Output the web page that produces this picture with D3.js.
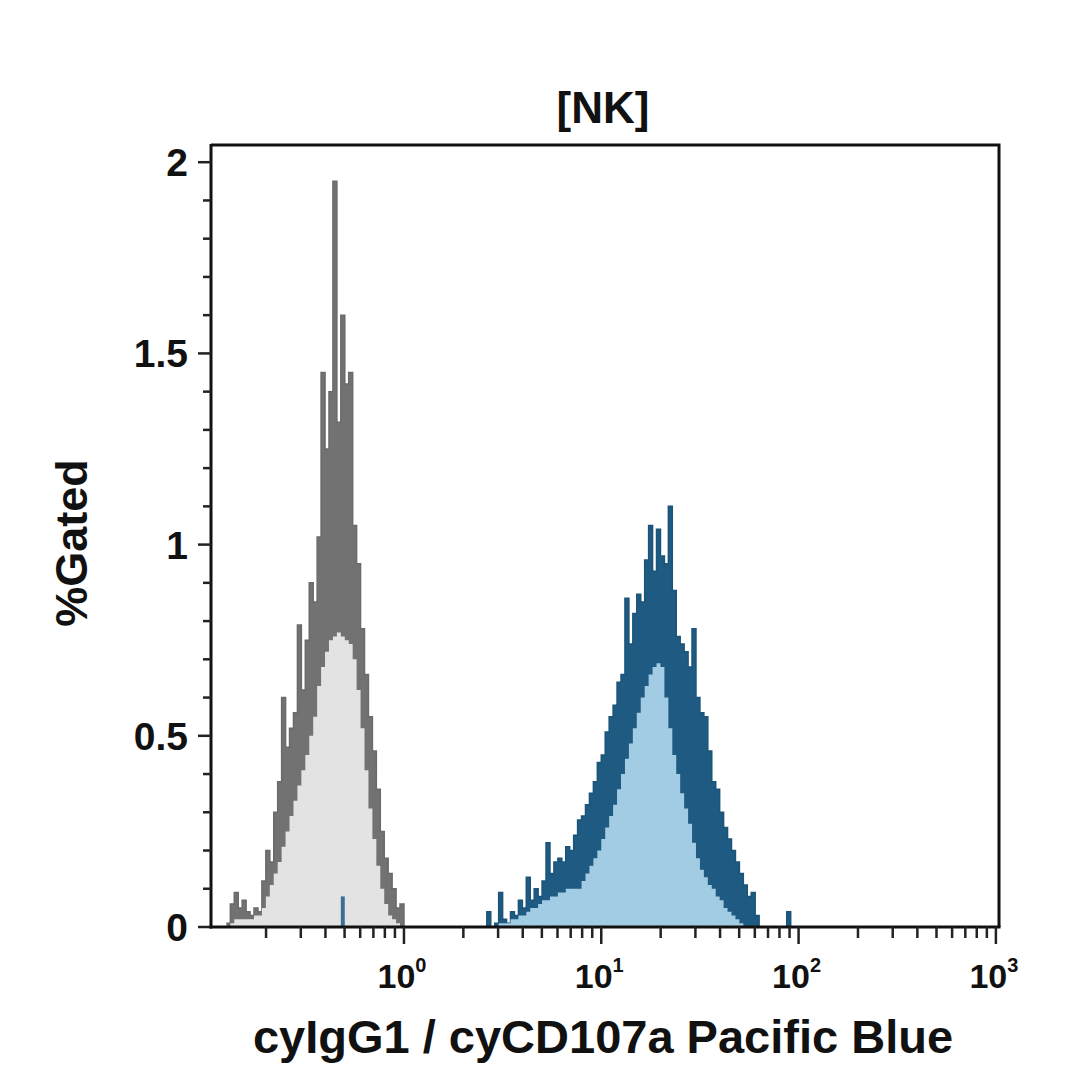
<!DOCTYPE html>
<html><head><meta charset="utf-8">
<script src="https://cdn.jsdelivr.net/npm/d3@7"></script>
<style>
body{margin:0;background:#fff}
svg{display:block}
text{font-family:"Liberation Sans",Arial,Helvetica,sans-serif;font-weight:bold;fill:#111}
</style>
</head><body>
<svg id="chart" width="1080" height="1080"></svg>
<script>
// ---- data ----
const binWidthLog = 0.02;               // histogram bin width in log10 units
const grayStartLog = -0.90;             // isotype (cyIgG1) first bin, log10
const grayRaw = [0.01,0.06,0.09,0.05,0.07,0.04,0.03,0.05,0.04,0.12,
                 0.20,0.17,0.30,0.38,0.60,0.47,0.52,0.56,0.79,0.62,
                 0.75,0.90,0.85,1.02,1.45,1.25,1.40,1.95,1.32,1.60,
                 1.42,1.45,1.05,0.95,0.78,0.66,0.55,0.46,0.36,0.25,
                 0.18,0.14,0.10,0.05,0.06];
const grayFill = [0.00,0.01,0.02,0.02,0.02,0.02,0.02,0.03,0.03,0.05,
                  0.08,0.11,0.14,0.17,0.21,0.25,0.29,0.33,0.37,0.41,
                  0.45,0.50,0.55,0.63,0.68,0.72,0.75,0.76,0.77,0.76,
                  0.75,0.74,0.70,0.62,0.52,0.41,0.31,0.23,0.16,0.10,
                  0.06,0.03,0.02,0.01,0.00];
const blueStartLog = 0.38;              // cyCD107a first bin, log10
const blueRaw = [0.00,0.00,0.04,0.00,0.01,0.09,0.02,0.01,0.04,0.03,
                 0.07,0.05,0.13,0.07,0.10,0.08,0.12,0.22,0.14,0.17,
                 0.18,0.17,0.21,0.20,0.24,0.28,0.29,0.32,0.35,0.38,
                 0.43,0.45,0.51,0.55,0.58,0.64,0.66,0.86,0.74,0.82,
                 0.87,0.85,0.96,1.05,0.93,1.04,0.97,0.95,1.10,0.88,
                 0.76,0.74,0.72,0.68,0.78,0.60,0.56,0.55,0.46,0.38,
                 0.36,0.30,0.26,0.23,0.20,0.17,0.14,0.11,0.08,0.09,
                 0.03,0.00,0.00,0.00,0.00,0.00,0.00,0.00,0.04,0.00];
const blueFill = [0.00,0.00,0.00,0.00,0.00,0.01,0.01,0.01,0.02,0.02,
                  0.03,0.03,0.04,0.05,0.05,0.06,0.07,0.07,0.08,0.08,
                  0.09,0.09,0.10,0.10,0.10,0.10,0.12,0.14,0.16,0.18,
                  0.20,0.23,0.26,0.29,0.32,0.36,0.40,0.44,0.48,0.52,
                  0.56,0.60,0.63,0.66,0.68,0.69,0.68,0.60,0.52,0.45,
                  0.40,0.35,0.31,0.27,0.22,0.18,0.15,0.13,0.11,0.10,
                  0.08,0.07,0.05,0.04,0.03,0.02,0.01,0.00,0.00,0.00,
                  0.00,0.00,0.00,0.00,0.00,0.00,0.00,0.00,0.00,0.00];
const blueStrayLog = [-0.32];           // lone event inside isotype peak
const blueStrayValues = [0.08];
const yTicks = [0, 0.5, 1, 1.5, 2];
const yTickLabels = ["0", "0.5", "1", "1.5", "2"];
const yMinorTicks = [0.1,0.2,0.3,0.4,0.6,0.7,0.8,0.9,1.1,1.2,1.3,1.4,1.6,1.7,1.8,1.9];
const xTickExponents = [0, 1, 2, 3];
const xMinorMultipliers = [2,3,4,5,6,7,8,9];
const xMinorDecades = [0.1, 1, 10, 100];
const titleText = "[NK]";
const xTitleText = "cyIgG1 / cyCD107a Pacific Blue";
const yTitleText = "%Gated";

// ---- layout ----
const L = 211, R = 999, T = 145, B = 927;
const svg = d3.select("#chart");
const x = d3.scaleLog().domain([0.1052, 1037]).range([L, R]);
const y = d3.scaleLinear().domain([0, 2.045]).range([B, T]);

function binsOf(start, vals) {
  const pts = vals.map((v, i) => ({x: Math.pow(10, start + i * binWidthLog), v}));
  pts.push({x: Math.pow(10, start + vals.length * binWidthLog), v: 0});
  return pts;
}
const area = d3.area().curve(d3.curveStepAfter)
  .x(d => x(d.x)).y0(y(0)).y1(d => y(d.v));
const line = d3.line().curve(d3.curveStepAfter)
  .x(d => x(d.x)).y(d => y(d.v));

const plot = svg.append("g");
// isotype
plot.append("path").attr("d", area(binsOf(grayStartLog, grayRaw))).attr("fill", "#727272");
plot.append("path").attr("d", line(binsOf(grayStartLog, grayRaw))).attr("fill", "none")
  .attr("stroke", "#6a6a6a").attr("stroke-width", 1.5);
plot.append("path").attr("d", area(binsOf(grayStartLog, grayFill))).attr("fill", "#e3e3e3");
// CD107a
plot.append("path").attr("d", area(binsOf(blueStartLog, blueRaw))).attr("fill", "#1e5a81");
plot.append("path").attr("d", line(binsOf(blueStartLog, blueRaw))).attr("fill", "none")
  .attr("stroke", "#1b5479").attr("stroke-width", 1.5);
plot.append("path").attr("d", area(binsOf(blueStartLog, blueFill))).attr("fill", "#a1cce3");
blueStrayLog.forEach((lg, i) => {
  plot.append("path").attr("d", area(binsOf(lg, [blueStrayValues[i]]))).attr("fill", "#3b6f96");
});

// frame (top & right)
svg.append("path").attr("d", `M${L},${T}H${R}V${B}`).attr("fill", "none")
  .attr("stroke", "#111").attr("stroke-width", 3);

// y axis
const yAxis = svg.append("g").attr("transform", `translate(${L},0)`);
yAxis.append("line").attr("x1", 0).attr("x2", 0).attr("y1", T - 1).attr("y2", B + 1.5)
  .attr("stroke", "#111").attr("stroke-width", 3);
yAxis.selectAll(".ymaj").data(yTicks).join("line")
  .attr("x1", -13).attr("x2", 0).attr("y1", d => y(d)).attr("y2", d => y(d))
  .attr("stroke", "#222").attr("stroke-width", 2.5);
yAxis.selectAll(".ymin").data(yMinorTicks).join("line")
  .attr("x1", -8).attr("x2", 0).attr("y1", d => y(d)).attr("y2", d => y(d))
  .attr("stroke", "#222").attr("stroke-width", 2.5);
yAxis.selectAll("text").data(yTicks).join("text")
  .attr("x", -23).attr("y", d => y(d)).attr("dy", "0.36em")
  .attr("text-anchor", "end").attr("font-size", 39)
  .text((d, i) => yTickLabels[i]);

// x axis
const xAxis = svg.append("g").attr("transform", `translate(0,${B})`);
xAxis.append("line").attr("x1", L - 1.5).attr("x2", R + 1.5).attr("y1", 0).attr("y2", 0)
  .attr("stroke", "#111").attr("stroke-width", 3);
const minor = [];
xMinorDecades.forEach(d => xMinorMultipliers.forEach(m => {
  const v = d * m; if (v > x.domain()[0] && v < x.domain()[1]) minor.push(v);
}));
xAxis.selectAll(".xmin").data(minor).join("line")
  .attr("x1", d => x(d)).attr("x2", d => x(d)).attr("y1", 0).attr("y2", 11)
  .attr("stroke", "#222").attr("stroke-width", 2.5);
xAxis.selectAll(".xmaj").data(xTickExponents).join("line")
  .attr("x1", d => x(Math.pow(10, d))).attr("x2", d => x(Math.pow(10, d)))
  .attr("y1", 0).attr("y2", 17).attr("stroke", "#222").attr("stroke-width", 2.5);
const xl = xAxis.selectAll("text").data(xTickExponents).join("text")
  .attr("x", d => x(Math.pow(10, d)) - 2).attr("y", 61)
  .attr("text-anchor", "middle").attr("font-size", 34);
xl.append("tspan").text("10");
xl.append("tspan").attr("dy", -16).attr("font-size", 20).text(d => String(d));

// titles
svg.append("text").attr("x", 603).attr("y", 123).attr("text-anchor", "middle")
  .attr("font-size", 44).text(titleText);
svg.append("text").attr("x", 603).attr("y", 1053).attr("text-anchor", "middle")
  .attr("font-size", 47).text(xTitleText);
svg.append("text").attr("transform", "translate(87,543) rotate(-90)")
  .attr("text-anchor", "middle").attr("font-size", 45).text(yTitleText);
</script>
</body></html>
